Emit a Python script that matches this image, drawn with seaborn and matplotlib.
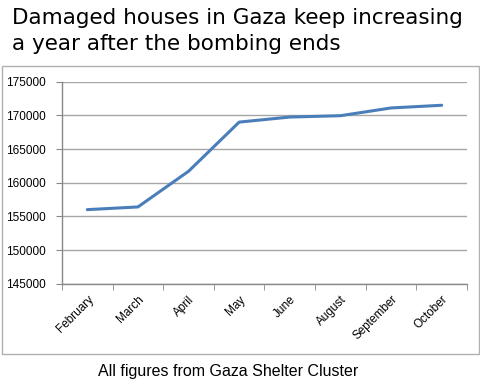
import matplotlib
matplotlib.use("Agg")
import matplotlib.pyplot as plt
import matplotlib.patches as patches
import seaborn as sns
import pandas as pd

months = ["February", "March", "April", "May", "June", "August", "September", "October"]
damaged = [156000, 156400, 161700, 169000, 169750, 169950, 171100, 171500]

sns.set_style("white")
plt.rcParams['font.family'] = ['Liberation Sans', 'DejaVu Sans']
plt.rcParams['text.color'] = 'black'
plt.rcParams['xtick.color'] = 'black'
plt.rcParams['ytick.color'] = 'black'

fig = plt.figure(figsize=(4.81, 3.85), dpi=100)
ax = fig.add_axes([62 / 481, 1 - 283.7 / 385, 405 / 481, 202 / 385])

df = pd.DataFrame({"month": months, "houses": damaged})
sns.lineplot(data=df, x="month", y="houses", ax=ax, color="#4a7ebb", linewidth=2.2, sort=False)

ax.set_xlim(-0.5, len(months) - 0.5)
ax.set_ylim(145000, 175000)
ax.set_yticks(range(145000, 175001, 5000))
ax.set_yticklabels([str(v) for v in range(145000, 175001, 5000)], fontsize=8.5)
ax.set_xticks(range(len(months)))
ax.set_xticklabels(months, rotation=45, ha="right", rotation_mode="anchor", fontsize=8.5)
ax.set_xticks([i - 0.5 for i in range(len(months) + 1)], minor=True)
ax.tick_params(axis="x", which="major", length=0, pad=7)
ax.tick_params(axis="x", which="minor", length=4, color="#888888", direction="out", bottom=True)
ax.tick_params(axis="y", length=4, color="#888888", labelcolor="black", direction="out", left=True, pad=8)
ax.set_xlabel("")
ax.set_ylabel("")
ax.yaxis.grid(True, color="#a6a6a6", linewidth=1)
ax.set_axisbelow(True)
for s in ["top", "right"]:
    ax.spines[s].set_visible(False)
for s in ["left", "bottom"]:
    ax.spines[s].set_color("#888888")
    ax.spines[s].set_linewidth(1)

# outer chart border
fig.patches.append(patches.Rectangle((2 / 481, 1 - 354 / 385), 477 / 481, 288 / 385,
                                     transform=fig.transFigure, fill=False,
                                     edgecolor="#b0b0b0", linewidth=1))

fig.text(12 / 481, 1 - 8 / 385, "Damaged houses in Gaza keep increasing\na year after the bombing ends",
         fontsize=15.5, family="DejaVu Sans", ha="left", va="top", linespacing=1.38, color="black")
fig.text(228 / 481, 1 - 376 / 385, "All figures from Gaza Shelter Cluster",
         fontsize=11.5, ha="center", va="baseline", color="black")

fig.savefig("out.png", dpi=100)
